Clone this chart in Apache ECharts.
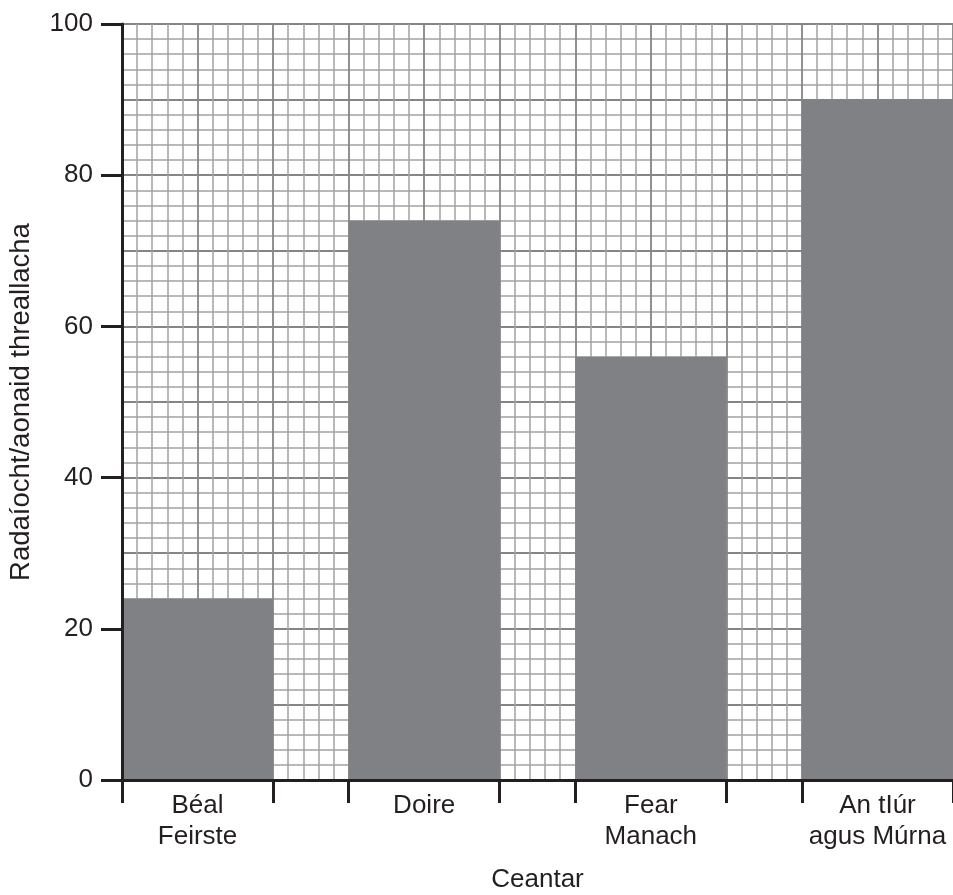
<!DOCTYPE html>
<html>
<head>
<meta charset="utf-8">
<script src="https://cdn.jsdelivr.net/npm/echarts@6/dist/echarts.min.js"></script>
<style>
html,body{margin:0;padding:0;background:#fff;}
#chart{width:953px;height:895px;}
</style>
</head>
<body>
<div id="chart"></div>
<script>
const categories = ['Béal\nFeirste', 'Doire', 'Fear\nManach', 'An tIúr\nagus Múrna'];
const values = [24, 74, 56, 90];
const yTickLabels = [0, 20, 40, 60, 80, 100];
const xAxisTitle = 'Ceantar';
const yAxisTitle = 'Radaíocht/aonaid threallacha';

// layout: each bar spans 2 units, gaps of 1 unit
const barStarts = categories.map((c, i) => i * 3);
const xTickValues = [];
barStarts.forEach(s => { xTickValues.push(s, s + 2); });
const xLabelValues = barStarts.map(s => s + 1);

const FONT = '"Liberation Sans", Arial, Helvetica, sans-serif';
const INK = '#231f20';

const chart = echarts.init(document.getElementById('chart'), null, {renderer: 'canvas'});
chart.setOption({
  animation: false,
  backgroundColor: '#ffffff',
  grid: {left: 122, right: 0, top: 24, bottom: 115, containLabel: false, outerBoundsMode: 'none'},
  xAxis: [
    {
      type: 'value', min: 0, max: 11, interval: 1, position: 'bottom', z: 0,
      axisLine: {show: false}, axisTick: {show: false}, axisLabel: {show: false},
      splitLine: {show: true, lineStyle: {color: '#858585', width: 1.8}},
      minorTick: {show: false, splitNumber: 5},
      minorSplitLine: {show: true, lineStyle: {color: '#a2a2a2', width: 1.5}}
    },
    {
      type: 'value', min: 0, max: 11, position: 'bottom', z: 10,
      axisLine: {show: true, onZero: false, lineStyle: {color: INK, width: 3}},
      axisTick: {show: true, customValues: xTickValues, length: 23, lineStyle: {color: INK, width: 3}},
      axisLabel: {
        show: true, customValues: xLabelValues, margin: 10,
        fontFamily: FONT, fontSize: 26, color: INK, lineHeight: 31,
        formatter: v => categories[Math.round((v - 1) / 3)]
      },
      splitLine: {show: false},
      name: xAxisTitle, nameLocation: 'middle', nameGap: 87,
      nameTextStyle: {fontFamily: FONT, fontSize: 26, color: INK}
    }
  ],
  yAxis: [
    {
      type: 'value', min: 0, max: 100, interval: 10, position: 'left', z: 0,
      axisLine: {show: false}, axisTick: {show: false}, axisLabel: {show: false},
      splitLine: {show: true, lineStyle: {color: '#858585', width: 1.8}},
      minorTick: {show: false, splitNumber: 5},
      minorSplitLine: {show: true, lineStyle: {color: '#a2a2a2', width: 1.5}}
    },
    {
      type: 'value', min: 0, max: 100, position: 'left', z: 10,
      axisLine: {show: true, onZero: false, lineStyle: {color: INK, width: 3}},
      axisTick: {show: true, customValues: yTickLabels, length: 21, lineStyle: {color: INK, width: 3}},
      axisLabel: {
        show: true, customValues: yTickLabels, margin: 29,
        fontFamily: FONT, fontSize: 26, color: INK
      },
      splitLine: {show: false},
      name: yAxisTitle, nameLocation: 'middle', nameGap: 87, nameRotate: 90,
      nameTextStyle: {fontFamily: FONT, fontSize: 27.5, color: INK}
    }
  ],
  series: [{
    type: 'custom',
    xAxisIndex: 0, yAxisIndex: 0, z: 5,
    data: values.map((v, i) => [barStarts[i], v]),
    renderItem: function (params, api) {
      const x0 = api.value(0);
      const v = api.value(1);
      const p0 = api.coord([x0, v]);
      const p1 = api.coord([x0 + 2, 0]);
      return {
        type: 'rect',
        shape: {x: p0[0], y: p0[1], width: p1[0] - p0[0], height: p1[1] - p0[1]},
        style: {fill: '#808184'}
      };
    }
  }]
});
</script>
</body>
</html>
